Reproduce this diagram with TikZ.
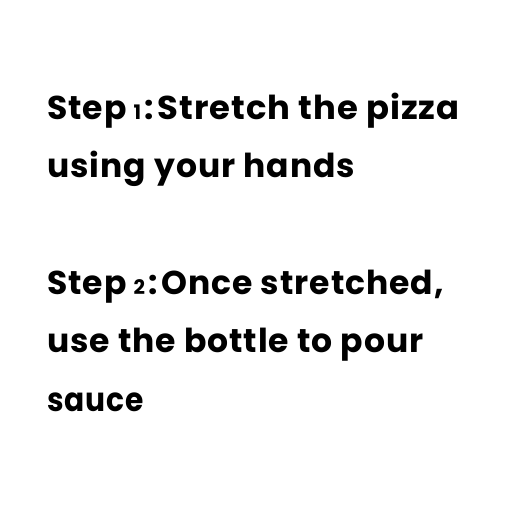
\documentclass[tikz,border=0pt]{standalone}
\usepackage{graphicx}
\usepackage{fontspec}
\newfontfamily\stepfont{Poppins Bold}[LetterSpace=3.0]
\newcommand{\smalldig}[1]{{\fontsize{20pt}{20pt}\selectfont #1}}
\newcommand{\steplabel}[1]{Step\hspace{7pt}\smalldig{#1}\hspace{3pt}:\hspace{4pt}}
\tikzset{txt/.style={anchor=base west, inner sep=0pt, font=\stepfont\fontsize{33pt}{33pt}\selectfont}}
\begin{document}
\begin{tikzpicture}[x=1pt,y=1pt]
\useasboundingbox[fill=white] (0,0) rectangle (512,512);
\node[txt] (l1) at (47,392) {\steplabel{1}\scalebox{1.025}[1]{Stretch the pizza}};
\node[txt] (l2) at (47,334) {using your hands};
\node[txt] (l3) at (47,217) {\steplabel{2}Once stretched,};
\node[txt] (l4) at (47,159) {use the bottle to pour};
\node[txt] (l5) at (47,100) {\scalebox{0.9}[1]{sauce}};
\end{tikzpicture}
\end{document}
